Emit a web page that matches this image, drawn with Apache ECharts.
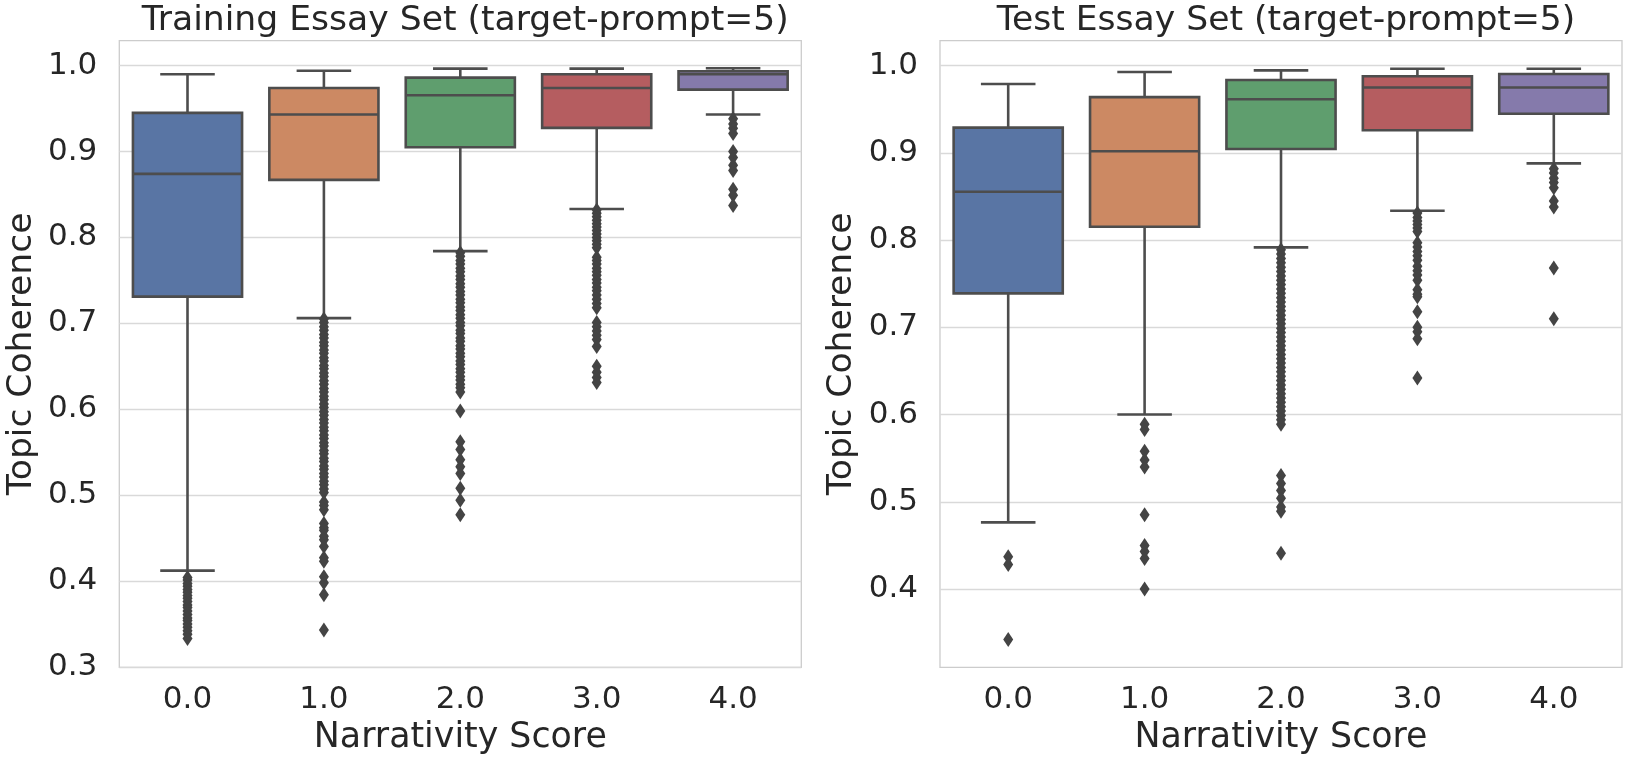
<!DOCTYPE html>
<html><head><meta charset="utf-8">
<script src="https://cdn.jsdelivr.net/npm/echarts@6/dist/echarts.min.js"></script>
<style>html,body{margin:0;padding:0;background:#fff}#c{width:1628px;height:762px}</style>
</head><body><div id="c"></div>
<script>
// ---------------- data ----------------
const categories = ['0.0', '1.0', '2.0', '3.0', '4.0'];
const boxColors = ['#5975a4', '#cc8963', '#5f9e6e', '#b55d60', '#857aab'];

// [lower whisker, Q1, median, Q3, upper whisker]
const trainBoxes = [
  [0.412, 0.731, 0.874, 0.945, 0.990],
  [0.706, 0.867, 0.943, 0.974, 0.994],
  [0.784, 0.905, 0.9655, 0.986, 0.9965],
  [0.833, 0.9275, 0.974, 0.990, 0.9965],
  [0.943, 0.972, 0.990, 0.9935, 0.997]
];
const testBoxes = [
  [0.4764, 0.739, 0.8555, 0.929, 0.979],
  [0.600, 0.8154, 0.902, 0.964, 0.9928],
  [0.7917, 0.9045, 0.9615, 0.9836, 0.9947],
  [0.8337, 0.926, 0.975, 0.988, 0.9966],
  [0.888, 0.945, 0.975, 0.9905, 0.9966]
];

// outliers per category
const trainOut0 = [0.404, 0.401, 0.397, 0.394, 0.390, 0.387, 0.383, 0.380, 0.376, 0.372, 0.369, 0.365, 0.361, 0.357, 0.354, 0.350, 0.346, 0.342, 0.338, 0.333];
const trainOut1 = [0.705, 0.701, 0.696, 0.692, 0.687, 0.683, 0.678, 0.674, 0.669, 0.665, 0.660, 0.656, 0.651, 0.647, 0.642, 0.638, 0.633, 0.629, 0.624, 0.620, 0.615, 0.611, 0.606, 0.602, 0.597, 0.593, 0.588, 0.584, 0.579, 0.575, 0.570, 0.566, 0.561, 0.557, 0.552, 0.548, 0.543, 0.539, 0.534, 0.530, 0.525, 0.521, 0.516, 0.512, 0.507, 0.503, 0.492, 0.488, 0.483, 0.467, 0.462, 0.459, 0.452, 0.448, 0.440, 0.427, 0.423, 0.405, 0.398, 0.384, 0.343];
const trainOut2 = [0.782, 0.778, 0.773, 0.769, 0.764, 0.760, 0.755, 0.751, 0.746, 0.742, 0.737, 0.733, 0.728, 0.724, 0.719, 0.715, 0.710, 0.706, 0.701, 0.697, 0.692, 0.688, 0.683, 0.679, 0.674, 0.670, 0.665, 0.661, 0.656, 0.652, 0.647, 0.643, 0.638, 0.634, 0.629, 0.625, 0.620, 0.598, 0.562, 0.553, 0.541, 0.533, 0.525, 0.508, 0.494, 0.477];
const trainOut3 = [0.832, 0.828, 0.824, 0.820, 0.816, 0.812, 0.808, 0.804, 0.800, 0.796, 0.792, 0.788, 0.777, 0.773, 0.769, 0.764, 0.760, 0.756, 0.751, 0.747, 0.742, 0.738, 0.733, 0.728, 0.723, 0.718, 0.701, 0.696, 0.691, 0.686, 0.681, 0.673, 0.650, 0.643, 0.637, 0.631];
const trainOut4 = [0.938, 0.932, 0.927, 0.921, 0.900, 0.893, 0.884, 0.878, 0.856, 0.849, 0.837];

const testOut0 = [0.437, 0.428, 0.342];
const testOut1 = [0.589, 0.583, 0.558, 0.548, 0.540, 0.485, 0.450, 0.443, 0.435, 0.400];
const testOut2 = [0.789, 0.784, 0.779, 0.774, 0.769, 0.764, 0.759, 0.754, 0.749, 0.744, 0.739, 0.734, 0.729, 0.724, 0.719, 0.714, 0.709, 0.704, 0.699, 0.694, 0.689, 0.684, 0.679, 0.674, 0.669, 0.664, 0.659, 0.654, 0.649, 0.644, 0.639, 0.634, 0.629, 0.624, 0.619, 0.614, 0.609, 0.604, 0.599, 0.594, 0.589, 0.530, 0.521, 0.513, 0.504, 0.494, 0.489, 0.441];
const testOut3 = [0.831, 0.826, 0.822, 0.818, 0.814, 0.810, 0.797, 0.792, 0.787, 0.782, 0.777, 0.770, 0.765, 0.760, 0.754, 0.743, 0.738, 0.735, 0.718, 0.700, 0.695, 0.687, 0.642];
const testOut4 = [0.882, 0.877, 0.871, 0.866, 0.860, 0.845, 0.838, 0.768, 0.710];

const trainYTicks = [0.3, 0.4, 0.5, 0.6, 0.7, 0.8, 0.9, 1.0];
const testYTicks = [0.4, 0.5, 0.6, 0.7, 0.8, 0.9, 1.0];

const trainTitle = 'Training Essay Set (target-prompt=5)';
const testTitle = 'Test Essay Set (target-prompt=5)';
const xName = 'Narrativity Score';
const yName = 'Topic Coherence';

// ---------------- chart ----------------
const FONT = 'DejaVu Sans';
const TXT = '#262626';
const LINE = '#4d4d4d';
const LW = 2.6;

function boxRender(params, api) {
  const i = api.value(0);
  const p = [1, 2, 3, 4, 5].map(d => api.coord([i, api.value(d)]));
  const cx = p[0][0];
  const band = api.size([1, 0])[0];
  const half = band * 0.4;
  const cap = band * 0.2;
  const ls = { stroke: LINE, lineWidth: LW };
  return {
    type: 'group',
    children: [
      { type: 'line', shape: { x1: cx, y1: p[0][1], x2: cx, y2: p[1][1] }, style: ls },
      { type: 'line', shape: { x1: cx, y1: p[3][1], x2: cx, y2: p[4][1] }, style: ls },
      { type: 'line', shape: { x1: cx - cap, y1: p[0][1], x2: cx + cap, y2: p[0][1] }, style: ls },
      { type: 'line', shape: { x1: cx - cap, y1: p[4][1], x2: cx + cap, y2: p[4][1] }, style: ls },
      { type: 'rect', shape: { x: cx - half, y: p[3][1], width: 2 * half, height: p[1][1] - p[3][1] },
        style: { fill: boxColors[i], stroke: LINE, lineWidth: LW } },
      { type: 'line', shape: { x1: cx - half, y1: p[2][1], x2: cx + half, y2: p[2][1] }, style: ls }
    ]
  };
}

const trainOut = [trainOut0, trainOut1, trainOut2, trainOut3, trainOut4];
const testOut = [testOut0, testOut1, testOut2, testOut3, testOut4];
const toPts = arr => arr.flatMap((vals, i) => vals.map(v => [i, v]));

function xAxisOf(gi) {
  return {
    type: 'category', gridIndex: gi, data: categories, boundaryGap: true,
    axisLine: { show: false }, axisTick: { show: false }, splitLine: { show: false },
    axisLabel: { fontSize: 31, color: TXT, margin: 17, fontFamily: FONT },
    name: xName, nameLocation: 'middle', nameGap: 53,
    nameTextStyle: { fontSize: 34.8, color: TXT, fontFamily: FONT }
  };
}
function yAxisOf(gi, min, max, ticks) {
  return {
    type: 'value', gridIndex: gi, min: min, max: max,
    axisLine: { show: false },
    axisTick: { show: false, customValues: ticks },
    axisLabel: { customValues: ticks, formatter: v => v.toFixed(1), fontSize: 31, color: TXT, margin: 22, fontFamily: FONT },
    splitLine: { show: true, lineStyle: { color: '#d9d9d9', width: 1.3 } },
    name: yName, nameLocation: 'middle', nameGap: 80,
    nameTextStyle: { fontSize: 34.5, color: TXT, fontFamily: FONT }
  };
}

const chart = echarts.init(document.getElementById('c'), null, { renderer: 'canvas' });
chart.setOption({
  animation: false,
  backgroundColor: '#ffffff',
  textStyle: { fontFamily: FONT },
  title: [
    { text: trainTitle, left: 460.3, top: -1, textAlign: 'center',
      textStyle: { fontSize: 34.6, fontWeight: 'normal', color: TXT, fontFamily: FONT } },
    { text: testTitle, left: 1281, top: -1, textAlign: 'center',
      textStyle: { fontSize: 34.6, fontWeight: 'normal', color: TXT, fontFamily: FONT } }
  ],
  grid: [
    { left: 119.3, top: 40.7, width: 682, height: 626.6, show: true, borderColor: '#cccccc', borderWidth: 1.3, backgroundColor: '#fff' },
    { left: 940, top: 40.7, width: 682, height: 626.6, show: true, borderColor: '#cccccc', borderWidth: 1.3, backgroundColor: '#fff' }
  ],
  xAxis: [xAxisOf(0), xAxisOf(1)],
  yAxis: [yAxisOf(0, 0.2995, 1.029, trainYTicks), yAxisOf(1, 0.3102, 1.0287, testYTicks)],
  series: [
    { type: 'custom', xAxisIndex: 0, yAxisIndex: 0, renderItem: boxRender, z: 2,
      encode: { x: 0, y: [1, 2, 3, 4, 5] }, data: trainBoxes.map((b, i) => [i].concat(b)) },
    { type: 'custom', xAxisIndex: 1, yAxisIndex: 1, renderItem: boxRender, z: 2,
      encode: { x: 0, y: [1, 2, 3, 4, 5] }, data: testBoxes.map((b, i) => [i].concat(b)) },
    { type: 'scatter', xAxisIndex: 0, yAxisIndex: 0, symbol: 'diamond', symbolSize: [10, 15], z: 3,
      itemStyle: { color: '#444444', opacity: 1 }, data: toPts(trainOut) },
    { type: 'scatter', xAxisIndex: 1, yAxisIndex: 1, symbol: 'diamond', symbolSize: [10, 15], z: 3,
      itemStyle: { color: '#444444', opacity: 1 }, data: toPts(testOut) }
  ]
});
</script></body></html>
